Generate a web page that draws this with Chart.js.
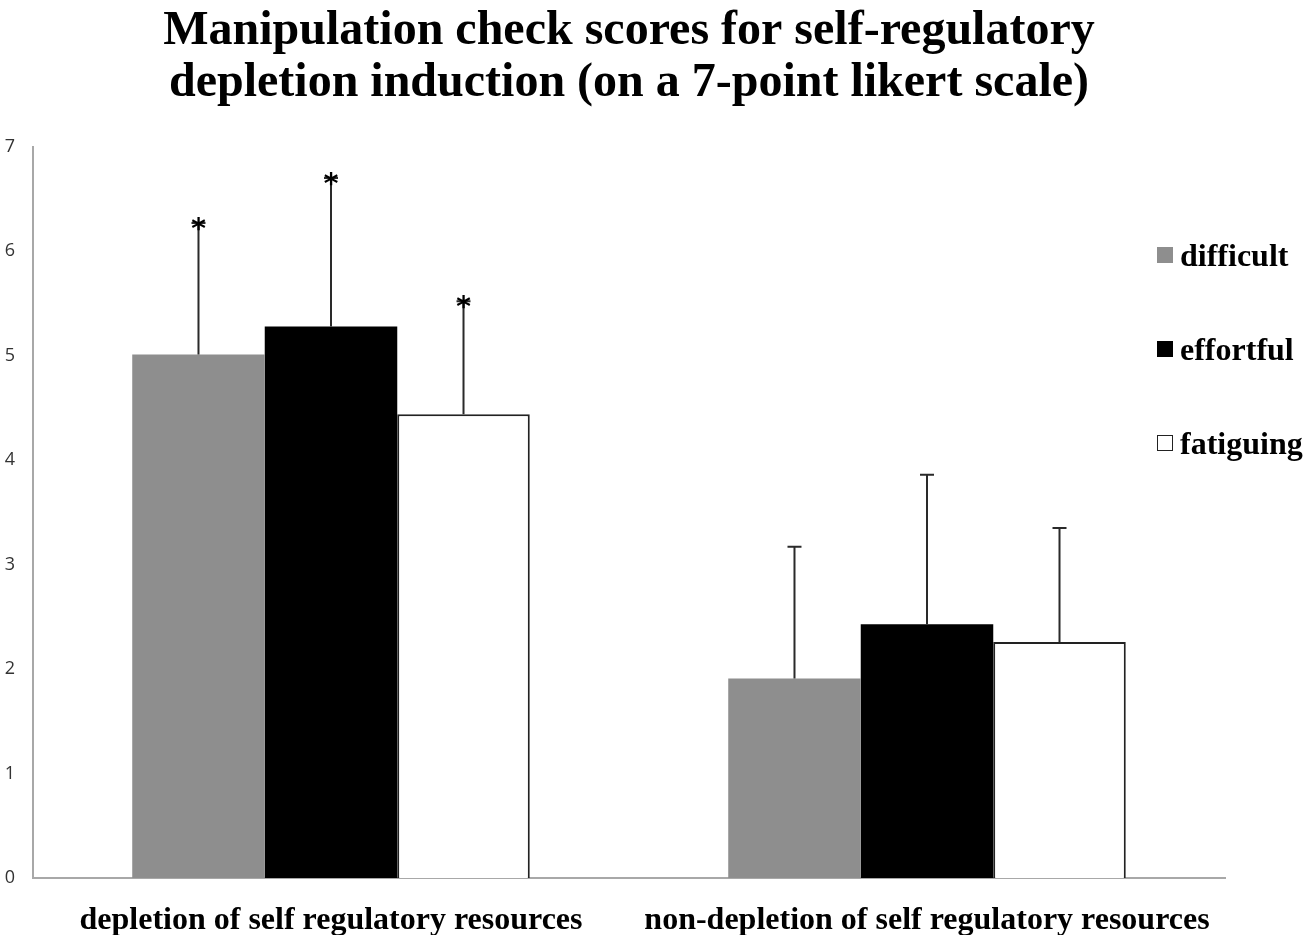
<!DOCTYPE html>
<html>
<head>
<meta charset="utf-8">
<script src="https://cdn.jsdelivr.net/npm/chart.js@4"></script>
<style>
  html, body { margin: 0; padding: 0; background: #fff; }
  #wrap { position: relative; width: 1307px; height: 940px; }
  #legend { position: absolute; left: 1157px; top: 231px; font-family: "Liberation Serif", serif; font-weight: bold; font-size: 32px; color: #000; }
  .item { display: flex; align-items: center; height: 48px; margin-bottom: 46px; }
  .box { width: 16px; height: 16px; margin-right: 7px; box-sizing: border-box; }
</style>
</head>
<body>
<div id="wrap">
  <canvas id="chart" width="1307" height="940"></canvas>
  <div id="legend"></div>
</div>
<script>
const categories = ["depletion of self regulatory resources", "non-depletion of self regulatory resources"];
const series_names = ["difficult", "effortful", "fatiguing"];
const difficult_values = [5.01, 1.91];
const effortful_values = [5.28, 2.43];
const fatiguing_values = [4.44, 2.26];
const difficult_errors = [1.26, 1.26];
const effortful_errors = [1.42, 1.43];
const fatiguing_errors = [1.08, 1.09];
const significant = [true, false];
const y_ticks = [0, 1, 2, 3, 4, 5, 6, 7];

const fills = ["#8e8e8e", "#000000", "#ffffff"];
const borders = ["#8e8e8e", "#000000", "#222222"];
const all_values = [difficult_values, effortful_values, fatiguing_values];
const all_errors = [difficult_errors, effortful_errors, fatiguing_errors];

// one-sided error bars with star marks above the first group
const error_bars = {
    id: "error_bars",
    afterDatasetsDraw(chart) {
        const ctx = chart.ctx;
        const y_scale = chart.scales.y;
        ctx.save();
        ctx.strokeStyle = "#2a2a2a";
        ctx.lineWidth = 2;
        chart.data.datasets.forEach((ds, d) => {
            const meta = chart.getDatasetMeta(d);
            meta.data.forEach((bar, i) => {
                const top = y_scale.getPixelForValue(ds.data[i] + all_errors[d][i]);
                ctx.beginPath();
                ctx.moveTo(bar.x, bar.y);
                ctx.lineTo(bar.x, top);
                ctx.moveTo(bar.x - 7, top);
                ctx.lineTo(bar.x + 7, top);
                ctx.stroke();
                if (significant[i]) {
                    ctx.fillStyle = "#000";
                    ctx.font = "bold 28px 'DejaVu Sans'";
                    ctx.textAlign = "center";
                    ctx.textBaseline = "alphabetic";
                    ctx.fillText("*", bar.x, top + 15);
                }
            });
        });
        ctx.restore();
    }
};

const chart = new Chart(document.getElementById("chart"), {
    type: "bar",
    data: {
        labels: categories,
        datasets: series_names.map((name, d) => ({
            label: name,
            data: all_values[d],
            backgroundColor: fills[d],
            borderColor: borders[d],
            borderWidth: d === 2 ? 2 : 0,
            barPercentage: 1,
            categoryPercentage: 0.667
        }))
    },
    options: {
        responsive: false,
        animation: false,
        layout: { padding: { left: 2, right: 82, top: 4, bottom: 5 } },
        plugins: {
            legend: { display: false },
            tooltip: { enabled: false },
            title: {
                display: true,
                fullSize: false,
                text: ["Manipulation check scores for self-regulatory", "depletion induction (on a 7-point likert scale)"],
                color: "#000",
                font: { family: "Liberation Serif", size: 48, weight: "bold", lineHeight: 1.08 },
                padding: { top: 2, bottom: 37 }
            }
        },
        scales: {
            x: {
                grid: { display: false },
                border: { display: true, color: "#a8a8a8", width: 2 },
                afterFit: (axis) => { axis.height = 57; },
                ticks: {
                    color: "#000",
                    padding: 16,
                    font: { family: "Liberation Serif", size: 32, weight: "bold" }
                }
            },
            y: {
                min: 0,
                max: 7,
                grid: { display: false },
                border: { display: true, color: "#a8a8a8", width: 2 },
                afterBuildTicks: (axis) => { axis.ticks = y_ticks.map(v => ({ value: v })); },
                afterFit: (axis) => { axis.width = 31; },
                ticks: {
                    color: "#333",
                    padding: 10,
                    font: { family: "Open Sans", size: 18 }
                }
            }
        }
    },
    plugins: [error_bars]
});

const legend = document.getElementById("legend");
series_names.forEach((name, d) => {
    const item = document.createElement("div");
    item.className = "item";
    const box = document.createElement("span");
    box.className = "box";
    box.style.background = fills[d];
    box.style.border = d === 2 ? "1.5px solid #222" : "none";
    item.appendChild(box);
    item.appendChild(document.createTextNode(name));
    legend.appendChild(item);
});
</script>
</body>
</html>
